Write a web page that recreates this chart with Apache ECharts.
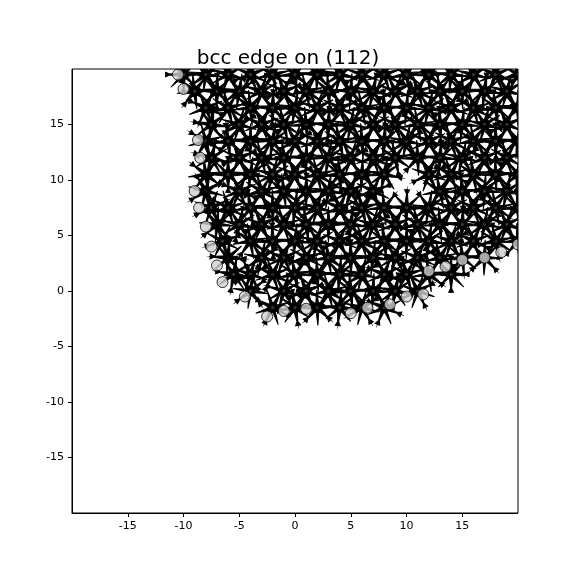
<!DOCTYPE html>
<html>
<head>
<meta charset="utf-8">
<script src="https://cdn.jsdelivr.net/npm/echarts@6/dist/echarts.min.js"></script>
<style>html,body{margin:0;background:#fff}#chart{width:576px;height:576px}</style>
</head>
<body>
<div id="chart"></div>
<script>
// atom rows: y value and x positions in that row
var rowY = [19.5, 18, 16.5, 15, 13.5, 12, 10.5, 9, 7.5, 6, 4.5, 3, 1.5, 0, -1.5];
var rowX = [
    [-10, -8, -6, -4, -2, 0, 2, 4, 6, 8, 10, 12, 14, 16, 18, 20],
    [-9, -7, -5, -3, -1, 1, 3, 5, 7, 9, 11, 13, 15, 17, 19],
    [-8, -6, -4, -2, 0, 2, 4, 6, 8, 10, 12, 14, 16, 18, 20],
    [-7.5, -5, -3, -1, 1, 3, 5, 7, 9, 11, 13, 15, 17, 19],
    [-8, -6, -4, -2, 0, 2, 4, 6, 8, 10, 12, 14, 16, 18, 20],
    [-7.5, -5, -3, -1, 1, 3, 5, 7, 9, 11, 13, 15, 17, 19],
    [-8, -6, -4, -2, 0, 2, 4, 6, 8, 12, 14, 16, 18, 20],
    [-8, -5, -3, -1, 1, 3, 5, 7, 13, 15, 17, 19],
    [-7.5, -6, -4, -2, 0, 2, 4, 6, 8, 10, 12, 14, 16, 18, 20],
    [-7, -5, -3, -1, 1, 3, 5, 7, 9, 11, 13, 15, 17, 19],
    [-6.5, -4, -2, 0, 2, 4, 6, 8, 10, 12, 14, 16, 18, 20],
    [-6, -3, -1, 1, 3, 5, 7, 9, 11, 13, 15, 17],
    [-5.5, -4, -2, 0, 2, 4, 6, 8, 10, 12, 14],
    [-4, -1, 1, 3, 5, 7, 9, 11],
    [-2, 0, 2, 4, 6, 8]
];
// grey atoms sitting on the outer edge
var edgeX = [-10.5, -10, -8.7, -8.5, -9, -8.6, -8, -7.5, -7, -6.5, -4.5, -2.5, -1, 1, 5, 6.5, 8.5, 10, 11.5, 12, 13.5, 15, 17, 18.5, 20];
var edgeY = [19.5, 18.2, 13.6, 12, 9, 7.5, 5.8, 4, 2.3, 0.8, -0.5, -2.3, -1.8, -1.6, -2, -1.5, -1.2, -0.5, -0.3, 1.8, 2.2, 2.8, 3, 3.5, 4.2];
var ticks = [-15, -10, -5, 0, 5, 10, 15];

var atoms = [];
rowY.forEach(function (y, i) {
    rowX[i].forEach(function (x) { atoms.push([x, y]); });
});
var edge = edgeX.map(function (x, i) { return [x, edgeY[i]]; });

// radiating arrow spikes drawn around each atom
var star = 'path://M0,-50L5,-6L-5,-6Z M0,50L5,6L-5,6Z M-50,0L-6,5L-6,-5Z M50,0L6,5L6,-5Z' +
    ' M35,35L1,7L7,1Z M-35,-35L-1,-7L-7,-1Z M35,-35L7,-1L1,-7Z M-35,35L-7,1L-1,7Z' +
    ' M-7,-50L7,-50L0,-36Z M-7,50L7,50L0,36Z M-50,-7L-50,7L-36,0Z M50,-7L50,7L36,0Z';

var L = 72, R = 518, T = 69, B = 513;
var chart = echarts.init(document.getElementById('chart'));
function axis(pos) {
    return {
        type: 'value', min: -20, max: 20, position: pos,
        splitLine: { show: false },
        axisLine: { show: true, onZero: false, lineStyle: { color: '#000' } },
        axisTick: { show: true, inside: false, length: 4, customValues: ticks, lineStyle: { color: '#000' } },
        axisLabel: { customValues: ticks, color: '#000', fontSize: 11, fontFamily: 'DejaVu Sans' }
    };
}
var white = { fill: '#fff' };
chart.setOption({
    backgroundColor: '#fff',
    animation: false,
    title: {
        text: 'bcc edge on (112)', left: 'center', top: 44, z: 20,
        textStyle: { fontSize: 20, fontWeight: 'normal', fontFamily: 'DejaVu Sans', color: '#000' }
    },
    grid: { left: L, right: 576 - R, top: T, bottom: 576 - B },
    xAxis: axis('bottom'),
    yAxis: axis('left'),
    // mask marks that spill past the frame, then draw the frame
    graphic: [
        { type: 'rect', z: 10, shape: { x: L, y: 0, width: 576 - L, height: T }, style: white, silent: true },
        { type: 'rect', z: 10, shape: { x: R, y: 0, width: 576 - R, height: 576 }, style: white, silent: true },
        { type: 'rect', z: 11, shape: { x: L, y: T, width: R - L, height: B - T }, style: { fill: 'none', stroke: '#000', lineWidth: 1 }, silent: true }
    ],
    series: [
        {
            type: 'scatter', data: atoms, symbol: star, symbolSize: 36,
            symbolRotate: function (v, p) { return (p.dataIndex * 37) % 90; },
            itemStyle: { color: '#000', borderColor: '#000', borderWidth: 1, opacity: 1 },
            z: 2
        },
        {
            type: 'scatter', data: atoms, symbol: 'circle', symbolSize: 10,
            itemStyle: { color: '#000', borderColor: '#000', borderWidth: 1 },
            z: 3
        },
        {
            type: 'scatter', data: edge, symbol: 'circle', symbolSize: 11,
            itemStyle: { color: '#cfcfcf', borderColor: '#000', borderWidth: 1 },
            z: 4
        }
    ]
});
</script>
</body>
</html>
